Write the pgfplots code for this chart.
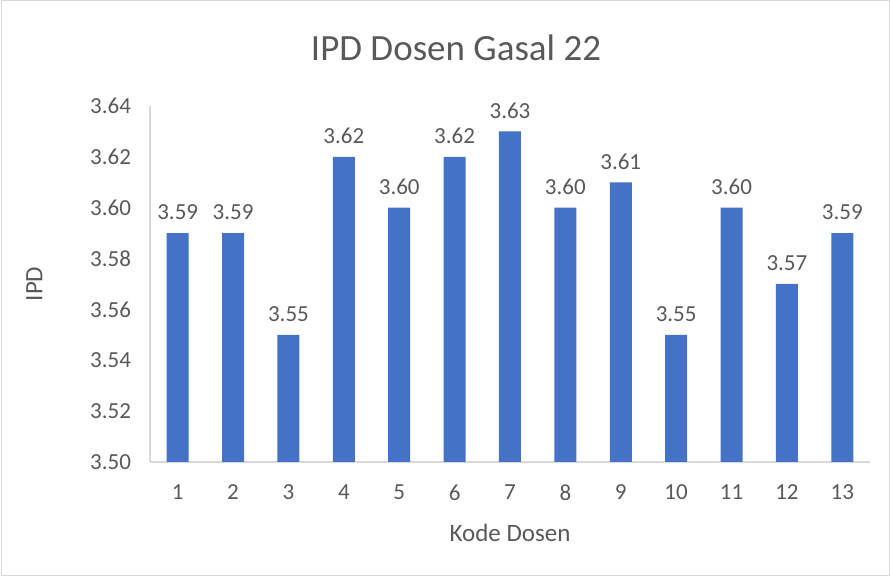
\documentclass[border=0pt]{standalone}
\usepackage{pgfplots}
\pgfplotsset{compat=1.18}
\usepackage{fontspec}
\setmainfont{Carlito}
\definecolor{txt}{HTML}{595959}
\definecolor{barc}{HTML}{4472C4}
\definecolor{axc}{HTML}{D9D9D9}
\begin{document}
\begin{tikzpicture}
\draw[axc, line width=0.5pt] (0.5pt,0.5pt) rectangle (444.5pt,288pt);
\path (0,0) (445pt,288.5pt);
\begin{axis}[
  at={(75pt,57.5pt)}, anchor=south west,
  scale only axis, width=360pt, height=178pt,
  xmin=0.5, xmax=13.5, ymin=3.50, ymax=3.64,
  xtick={1,...,13}, ytick={3.50,3.52,...,3.641},
  /pgf/number format/assume math mode=true,
  yticklabel style={/pgf/number format/fixed, /pgf/number format/fixed zerofill, /pgf/number format/precision=2, font=\fontsize{11.5}{13}\selectfont, text=txt, xshift=-6pt},
  xticklabel style={font=\fontsize{11.5}{13}\selectfont, text=txt, yshift=-8pt},
  major tick length=0pt,
  axis x line*=bottom, axis y line*=left,
  x axis line style={axc, line width=0.75pt, -},
  y axis line style={axc, line width=0.75pt, -},
  title={IPD Dosen Gasal 22},
  title style={font=\fontsize{18.5}{21}\selectfont, text=txt, at={(0.425,1)}, yshift=13pt},
  xlabel={Kode Dosen}, ylabel={IPD},
  xlabel style={font=\fontsize{12.5}{14}\selectfont, text=txt, yshift=-4.5pt},
  ylabel style={font=\fontsize{12.5}{14}\selectfont, text=txt, yshift=17pt},
  ybar, bar width=11pt, bar shift=0pt,
  nodes near coords,
  nodes near coords style={font=\fontsize{11.5}{13}\selectfont, text=txt, /pgf/number format/fixed, /pgf/number format/fixed zerofill, /pgf/number format/precision=2, /pgf/number format/assume math mode=true, yshift=3pt},
  clip=false,
]
\addplot[fill=barc, draw=none] coordinates {
(1,3.59) (2,3.59) (3,3.55) (4,3.62) (5,3.60) (6,3.62) (7,3.63)
(8,3.60) (9,3.61) (10,3.55) (11,3.60) (12,3.57) (13,3.59)};
\end{axis}
\end{tikzpicture}
\end{document}
